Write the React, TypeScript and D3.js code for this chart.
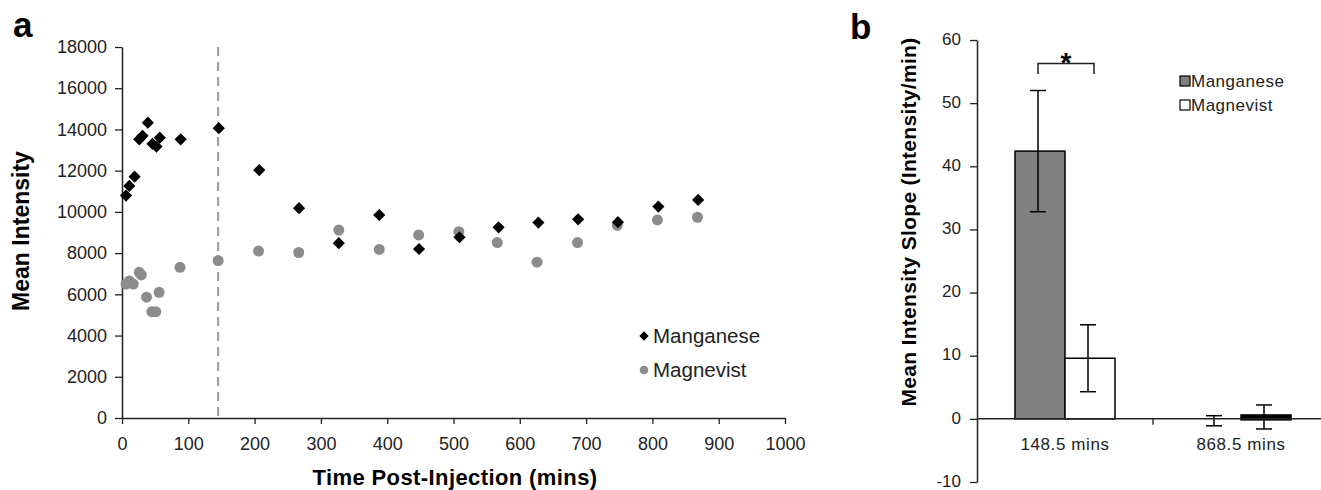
import { useEffect, useRef } from "react";
import * as d3 from "d3";

// Panel a: time course (mins) and mean intensity
const mnTimes = [6, 11, 19, 26, 31, 39, 46, 52, 57, 88.5, 146, 207, 267, 327, 388, 448, 509, 568, 628, 688, 748, 809, 869];
const mnValues = [10790, 11260, 11710, 13520, 13690, 14330, 13300, 13170, 13600, 13520, 14060, 12030, 10180, 8480, 9850, 8200, 8770, 9250, 9480, 9640, 9500, 10260, 10580];
const mgTimes = [6, 11, 17, 26, 29, 37, 45, 51, 56, 87.5, 145, 206, 266.5, 327, 388, 447.5, 508, 566, 626, 687, 747, 807.5, 868];
const mgValues = [6500, 6650, 6500, 7070, 6940, 5860, 5160, 5160, 6100, 7310, 7640, 8100, 8030, 9120, 8180, 8880, 9040, 8510, 7560, 8510, 9350, 9610, 9740];
const cutoffTime = 145;

// Panel b: slopes
const slopeGroups = ["148.5 mins", "868.5 mins"];
const slopeSeries = ["Manganese", "Magnevist"];
const slopeMn = [42.4, -0.3];
const slopeMnErr = [9.6, 0.8];
const slopeMg = [9.6, 0.3];
const slopeMgErr = [5.3, 1.9];

const FONT = "'Liberation Sans', Arial, sans-serif";

export default function App() {
  const svgRef = useRef<SVGSVGElement>(null);

  useEffect(() => {
    const svg = d3.select(svgRef.current);
    svg.selectAll("*").remove();
    svg.attr("font-family", FONT);

    // ---------- panel a ----------
    const x = d3.scaleLinear().domain([0, 1000]).range([122, 785]);
    const y = d3.scaleLinear().domain([0, 18000]).range([418, 47]);
    const a = svg.append("g");

    a.append("text").attr("x", 13).attr("y", 37).attr("font-size", 35).attr("font-weight", "bold").text("a");

    const xAxis = a.append("g").attr("transform", "translate(0,418)")
      .call(d3.axisBottom(x).tickValues(d3.range(0, 1001, 100)).tickFormat(d3.format("d")).tickSize(6).tickSizeOuter(0));
    const yAxis = a.append("g").attr("transform", "translate(122,0)")
      .call(d3.axisLeft(y).tickValues(d3.range(0, 18001, 2000)).tickFormat(d3.format("d")).tickSize(7).tickSizeOuter(0));
    [xAxis, yAxis].forEach((g) => {
      g.select(".domain").attr("stroke", "#222").attr("stroke-width", 1.5);
      g.selectAll(".tick line").attr("stroke", "#222").attr("stroke-width", 1.3);
      g.selectAll(".tick text").attr("font-size", 18).attr("fill", "#222").attr("font-family", FONT);
    });
    xAxis.selectAll(".tick text").attr("y", 32).attr("dy", null);
    yAxis.selectAll(".tick text").attr("x", -15);

    a.append("line")
      .attr("x1", x(cutoffTime)).attr("x2", x(cutoffTime))
      .attr("y1", y(18000)).attr("y2", y(0))
      .attr("stroke", "#999").attr("stroke-width", 2).attr("stroke-dasharray", "9,6");

    a.append("g").selectAll("circle").data(mgTimes).join("circle")
      .attr("cx", (d) => x(d)).attr("cy", (_, i) => y(mgValues[i])).attr("r", 5.5)
      .attr("fill", "#8c8c8c");

    const diamond = d3.symbol().type(d3.symbolDiamond2).size(95);
    a.append("g").selectAll("path").data(mnTimes).join("path")
      .attr("d", diamond)
      .attr("transform", (d, i) => `translate(${x(d)},${y(mnValues[i])})`)
      .attr("fill", "#000");

    // legend a
    a.append("path").attr("d", d3.symbol().type(d3.symbolDiamond2).size(55)).attr("transform", "translate(644,336)").attr("fill", "#000");
    a.append("text").attr("x", 653).attr("y", 343).attr("font-size", 20.5).attr("fill", "#222").text("Manganese");
    a.append("circle").attr("cx", 644).attr("cy", 370).attr("r", 4.3).attr("fill", "#8c8c8c");
    a.append("text").attr("x", 653).attr("y", 377).attr("font-size", 20.5).attr("fill", "#222").text("Magnevist");

    a.append("text").attr("x", 455).attr("y", 485).attr("text-anchor", "middle")
      .attr("font-size", 22).attr("letter-spacing", 0.4).attr("font-weight", "bold").text("Time Post-Injection (mins)");
    a.append("text").attr("transform", "translate(29,231) rotate(-90)").attr("text-anchor", "middle")
      .attr("font-size", 23).attr("font-weight", "bold").text("Mean Intensity");

    // ---------- panel b ----------
    const b = svg.append("g");
    b.append("text").attr("x", 850).attr("y", 39).attr("font-size", 35).attr("font-weight", "bold").text("b");

    const yb = d3.scaleLinear().domain([-10, 60]).range([482, 40]);
    const xb = d3.scaleBand().domain(slopeGroups).range([977, 1329]);
    const xs = d3.scaleBand().domain(slopeSeries).range([0, 100]);
    const groupOffset = (xb.bandwidth() - 100) / 2;

    const ybAxis = b.append("g").attr("transform", "translate(977,0)")
      .call(d3.axisLeft(yb).tickValues(d3.range(-10, 61, 10)).tickSize(7).tickSizeOuter(0));
    ybAxis.select(".domain").attr("stroke", "#222").attr("stroke-width", 1.5);
    ybAxis.selectAll(".tick line").attr("stroke", "#222").attr("stroke-width", 1.3);
    ybAxis.selectAll(".tick text").attr("font-size", 17).attr("fill", "#222").attr("x", -16).attr("dy", "0.25em")
      .attr("font-family", FONT)
      .text((d) => d3.format("d")(d as number).replace("\u2212", "-"));

    const series = [
      { name: "Manganese", vals: slopeMn, errs: slopeMnErr, fill: "#808080" },
      { name: "Magnevist", vals: slopeMg, errs: slopeMgErr, fill: "#fff" },
    ];
    series.forEach((s) => {
      slopeGroups.forEach((gname, i) => {
        const v = s.vals[i];
        const bx = (xb(gname) as number) + groupOffset + (xs(s.name) as number);
        const w = xs.bandwidth();
        const thin = Math.abs(yb(0) - yb(v)) < 4;
        if (s.name === "Magnevist" || !thin) {
          b.append("rect")
            .attr("x", bx).attr("width", w)
            .attr("y", Math.min(yb(v), yb(0)) - (thin ? 2 : 0))
            .attr("height", Math.abs(yb(0) - yb(v)) + (thin ? 3 : 0))
            .attr("fill", thin ? "#000" : s.fill).attr("stroke", "#000").attr("stroke-width", 1.5);
        }
        const cx = bx + w / 2 - 2;
        const e = s.errs[i];
        const eg = b.append("g").attr("stroke", "#000").attr("stroke-width", 1.5);
        eg.append("line").attr("x1", cx).attr("x2", cx).attr("y1", yb(v + e)).attr("y2", yb(v - e));
        [v + e, v - e].forEach((t) =>
          eg.append("line").attr("x1", cx - 8).attr("x2", cx + 8).attr("y1", yb(t)).attr("y2", yb(t)));
      });
    });

    // zero axis with group tick
    b.append("line").attr("x1", 977).attr("x2", 1321).attr("y1", yb(0)).attr("y2", yb(0))
      .attr("stroke", "#222").attr("stroke-width", 1.5);
    b.append("line").attr("x1", xb(slopeGroups[1]) as number).attr("x2", xb(slopeGroups[1]) as number)
      .attr("y1", yb(0)).attr("y2", yb(0) + 6).attr("stroke", "#222").attr("stroke-width", 1.3);
    slopeGroups.forEach((gname) => {
      b.append("text").attr("x", (xb(gname) as number) + xb.bandwidth() / 2).attr("y", 450)
        .attr("text-anchor", "middle").attr("font-size", 17).attr("letter-spacing", 0.6).attr("fill", "#222").text(gname);
    });

    // significance bracket
    const bx1 = (xb(slopeGroups[0]) as number) + groupOffset + xs.bandwidth() / 2 - 2;
    const bx2 = bx1 + xs.bandwidth() + 6;
    b.append("path").attr("d", `M${bx1},74V63.5H${bx2}V74`).attr("fill", "none")
      .attr("stroke", "#222").attr("stroke-width", 1.5);
    b.append("text").attr("x", (bx1 + bx2) / 2).attr("y", 72).attr("text-anchor", "middle")
      .attr("font-size", 28).attr("font-weight", "bold").text("*");

    // legend b
    series.forEach((s, i) => {
      b.append("rect").attr("x", 1180).attr("y", 76 + i * 24).attr("width", 10).attr("height", 10)
        .attr("fill", s.fill).attr("stroke", "#000").attr("stroke-width", 1.2);
      b.append("text").attr("x", 1191).attr("y", 87 + i * 24).attr("font-size", 17).attr("letter-spacing", 0.5).attr("fill", "#222").text(s.name);
    });

    b.append("text").attr("transform", "translate(916,222) rotate(-90)").attr("text-anchor", "middle")
      .attr("font-size", 21).attr("letter-spacing", 0.3).attr("font-weight", "bold").text("Mean Intensity Slope (Intensity/min)");
  }, []);

  return (
    <div style={{ position: "absolute", left: 0, top: 0 }}>
      <svg ref={svgRef} width={1321} height={490} style={{ display: "block", background: "#fff" }}></svg>
    </div>
  );
}
